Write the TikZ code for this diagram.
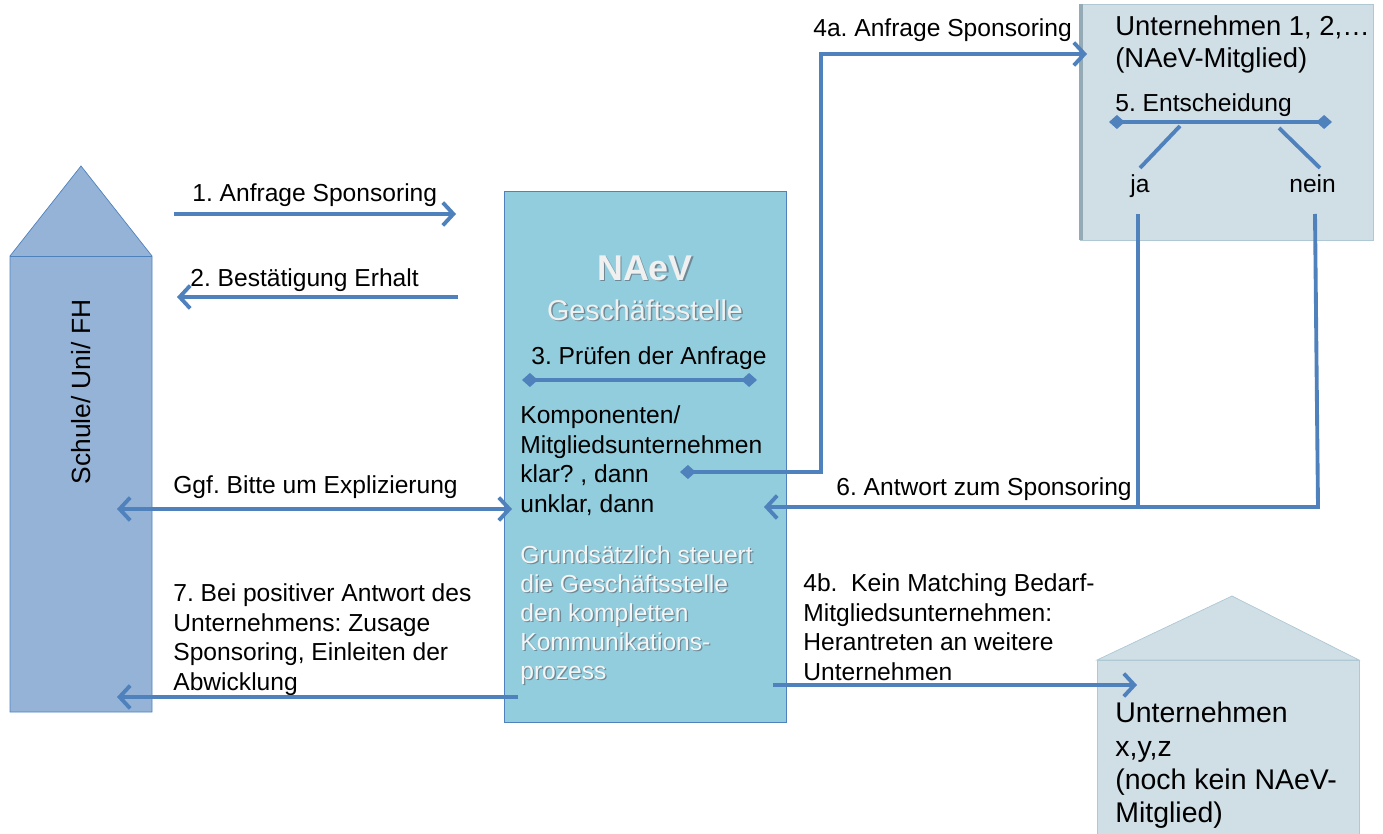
\documentclass[tikz,border=0pt]{standalone}
\usepackage{fontspec}
\setmainfont{Liberation Sans}
\usetikzlibrary{arrows.meta}

\definecolor{pfeilblau}{HTML}{4F81BD}
\definecolor{schulblau}{HTML}{95B3D7}
\definecolor{naevblau}{HTML}{92CDDD}
\definecolor{firmagrau}{HTML}{D0DEE6}
\definecolor{firmarand}{HTML}{AEC8D4}
\definecolor{schattengrau}{HTML}{6F8A96}

\tikzset{
  linie/.style={draw=pfeilblau, line width=2.2pt},
  pfeil/.style={linie, -{Straight Barb[length=6pt,width=13pt]}},
  doppelpfeil/.style={linie, {Straight Barb[length=6pt,width=13pt]}-{Straight Barb[length=6pt,width=13pt]}},
  raute/.style={linie, {Diamond[length=9pt,width=8pt]}-{Diamond[length=9pt,width=8pt]}},
  txt/.style={anchor=north west, inner sep=0pt, align=left, font=\fontsize{14}{17}\selectfont},
  gross/.style={txt, font=\fontsize{15.6}{18.2}\selectfont},
}

\begin{document}
\frenchspacing
\begin{tikzpicture}[x=0.02cm, y=-0.02cm]
\useasboundingbox (0,0) rectangle (1383,834);

\draw[draw=pfeilblau, fill=schulblau] (10,256) -- (81,166) -- (152,256) -- (152,712) -- (10,712) -- cycle;
\draw[draw=pfeilblau] (10,256) -- (152,256);
\node[rotate=90, font=\fontsize{15}{18}\selectfont] (schule) at (81,392) {Schule/ Uni/ FH};

\draw[draw=pfeilblau, fill=naevblau] (504,191) rectangle (786,722);
\draw[draw=firmarand, fill=firmagrau] (1080,4) rectangle (1373,240);
\draw[firmarand!85!black, line width=2pt] (1081,4) -- (1081,240);
\draw[draw=firmarand, fill=firmagrau] (1097,660) -- (1232,596) -- (1359,660) -- cycle;
\draw[draw=firmarand, fill=firmagrau] (1097,660) rectangle (1359,850);

\node[font=\bfseries\fontsize{20.4}{24}\selectfont, text=schattengrau] (naevs) at (646.5,269.5) {NAeV};
\node[font=\bfseries\fontsize{20.4}{24}\selectfont, text=white!94!black] (naev) at (645,268) {NAeV};
\node[font=\fontsize{16.3}{19}\selectfont, text=schattengrau] (gsts) at (646.5,311.5) {Geschäftsstelle};
\node[font=\fontsize{16.3}{19}\selectfont, text=white!94!black] (gst) at (645,310) {Geschäftsstelle};

\node[txt] (t1) at (192,183) {1. Anfrage Sponsoring};
\node[txt] (t2) at (190,268) {2. Bestätigung Erhalt};
\node[txt] (t3) at (531,346) {3. Prüfen der Anfrage};
\node[txt] (tkomp) at (520,405) {Komponenten/\\Mitgliedsunternehmen\\klar? , dann\\unklar, dann};
\node[txt] (tggf) at (173,475) {Ggf. Bitte um Explizierung};
\node[txt] (t7) at (173,583) {7. Bei positiver Antwort des\\Unternehmens: Zusage\\Sponsoring, Einleiten der\\Abwicklung};
\node[txt, font=\fontsize{14}{16.5}\selectfont, text=schattengrau] (tgrunds) at (521.3,546.3) {Grundsätzlich steuert\\die Geschäftsstelle\\den kompletten\\Kommunikations-\\prozess};
\node[txt, font=\fontsize{14}{16.5}\selectfont, text=white!96!black] (tgrund) at (520,545) {Grundsätzlich steuert\\die Geschäftsstelle\\den kompletten\\Kommunikations-\\prozess};
\node[txt] (t4a) at (813,18) {4a. Anfrage Sponsoring};
\node[gross] (tfirma) at (1115,15) {Unternehmen 1, 2,…\\(NAeV-Mitglied)};
\node[txt] (t5) at (1115,93) {5. Entscheidung};
\node[txt] (tja) at (1130,174) {ja};
\node[txt] (tnein) at (1289,174) {nein};
\node[txt] (t6) at (836,477) {6. Antwort zum Sponsoring};
\node[txt] (t4b) at (803,573) {4b.\ \ Kein Matching Bedarf-\\Mitgliedsunternehmen:\\Herantreten an weitere\\Unternehmen};
\node[txt, font=\fontsize{16.2}{18.8}\selectfont] (tneu) at (1115,702) {Unternehmen\\x,y,z\\(noch kein NAeV-\\Mitglied)};

\coordinate (a1) at (174,214);
\coordinate (b1) at (456,214);
\coordinate (a2) at (458,297);
\coordinate (b2) at (177,297);
\coordinate (ag) at (117,509);
\coordinate (bg) at (512,509);
\coordinate (a7) at (518,697);
\coordinate (b7) at (117,697);
\coordinate (r1) at (522,380);
\coordinate (r2) at (757,380);
\coordinate (k1) at (680,472);
\coordinate (k2) at (821,472);
\coordinate (k3) at (821,54);
\coordinate (k4) at (1087,54);
\coordinate (e1) at (1109,122);
\coordinate (e2) at (1332,122);
\coordinate (j1) at (1180,126);
\coordinate (j2) at (1140,168);
\coordinate (n1) at (1279,128);
\coordinate (n2) at (1320,168);
\coordinate (j3) at (1138,214);
\coordinate (j4) at (1138,508);
\coordinate (n3) at (1315,214);
\coordinate (n4) at (1318,507);
\coordinate (b6) at (764,507);
\coordinate (a4b) at (773,685);
\coordinate (b4b) at (1137,685);

\draw[pfeil] (a1) -- (b1);
\draw[pfeil] (a2) -- (b2);
\draw[doppelpfeil] (ag) -- (bg);
\draw[pfeil] (a7) -- (b7);
\draw[raute] (r1) -- (r2);
\draw[linie, {Diamond[length=9pt,width=8pt]}-{Straight Barb[length=6pt,width=13pt]}] (k1) -- (k2) -- (k3) -- (k4);
\draw[raute] (e1) -- (e2);
\draw[linie] (j1) -- (j2);
\draw[linie] (n1) -- (n2);
\draw[linie] (j3) -- (j4);
\draw[pfeil] (n3) -- (n4) -- (b6);
\draw[pfeil] (a4b) -- (b4b);
\end{tikzpicture}
\end{document}
